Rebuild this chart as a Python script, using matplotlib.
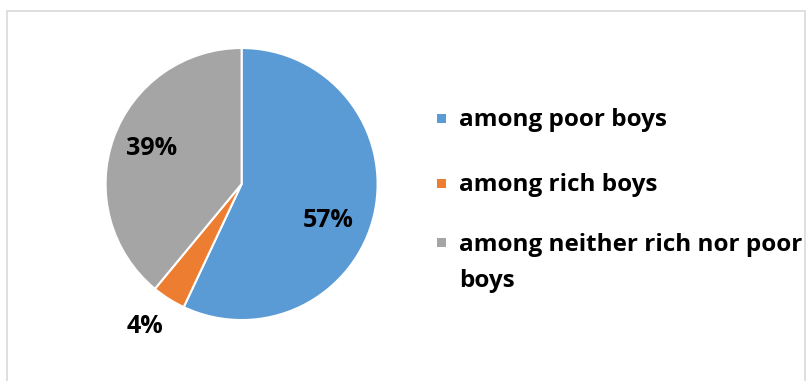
import matplotlib.pyplot as plt
from matplotlib.patches import Rectangle

categories = ['among poor boys', 'among rich boys', 'among neither rich nor poor\nboys']
shares = [57, 4, 39]
colors = ['#5B9BD5', '#ED7D31', '#A5A5A5']

# label positions in pie radius units (Excel style placement)
label_pos = [(0.636, -0.265), (-0.71, -1.048), (-0.665, 0.262)]

plt.rcParams['font.family'] = ['Open Sans', 'DejaVu Sans']

fig = plt.figure(figsize=(8.06, 3.81), dpi=100)
ax = fig.add_axes([0.131, 0.160, 0.3375, 0.714])

wedges, _, autotexts = ax.pie(shares, colors=colors, startangle=90, counterclock=False,
                              autopct='%d%%', radius=1,
                              wedgeprops=dict(edgecolor='white', linewidth=1.5))
for t, (x, y) in zip(autotexts, label_pos):
    t.set_position((x, y))
    t.set_fontsize(18)
    t.set_fontweight('bold')
    t.set_color('black')
    t.set_ha('center')
    t.set_va('center')
ax.set_xlim(-1, 1)
ax.set_ylim(-1, 1)
ax.set_aspect('equal')
ax.axis('off')

# legend drawn by hand so the marker sits on the first line of the wrapped label
rows_y = [118, 183, 243]
line_gap = 36
for name, c, py in zip(categories, colors, rows_y):
    fy = 1 - py / 381
    fig.patches.append(Rectangle((437 / 806, fy - 4.5 / 381), 9 / 806, 9 / 381,
                                 transform=fig.transFigure, facecolor=c, edgecolor='none'))
    for k, line in enumerate(name.split('\n')):
        fig.text(459 / 806, 1 - (py + 8 + k * line_gap) / 381, line, fontsize=17.5,
                 fontweight='bold', va='baseline', ha='left')

# chart frame
fig.patches.append(Rectangle((7 / 806, -0.05), 798 / 806, 1 - 11 / 381 + 0.05,
                             transform=fig.transFigure, fill=False,
                             edgecolor='#D9D9D9', linewidth=1.2))

fig.savefig('out.png', dpi=100)
